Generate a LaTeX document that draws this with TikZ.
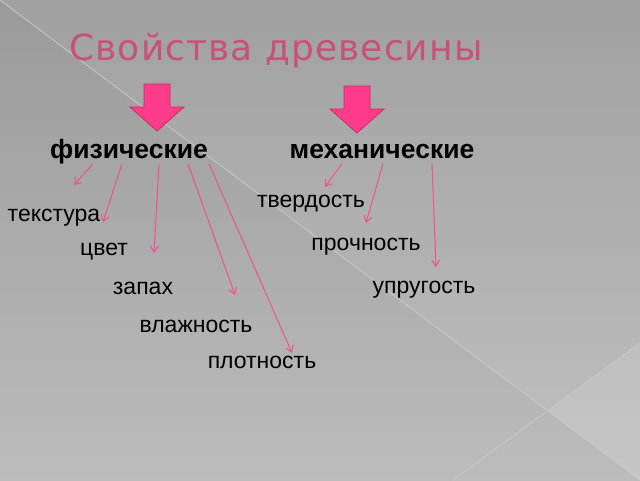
\documentclass[tikz,border=0pt]{standalone}
\usepackage{fontspec}
\setmainfont{Liberation Sans}
\newfontfamily\titlefont[LetterSpace=3]{DejaVu Sans}
\usetikzlibrary{arrows.meta}
\definecolor{bgtop}{RGB}{154,154,154}
\definecolor{bgbot}{RGB}{188,188,188}
\definecolor{bgline}{RGB}{200,200,200}
\definecolor{titlepink}{RGB}{200,80,125}
\definecolor{linkpink}{RGB}{240,80,140}
\definecolor{blockpink}{RGB}{255,60,140}
\definecolor{blockedge}{RGB}{205,40,100}

\begin{document}
\begin{tikzpicture}[x=1pt,y=-1pt,
    term/.style={anchor=base,inner sep=0pt,font=\fontsize{23}{27}\selectfont},
    head/.style={anchor=base,inner sep=0pt,font=\fontsize{26.5}{31}\selectfont\bfseries},
    link/.style={linkpink,line width=1pt,-{Straight Barb[length=6pt,width=8pt]}},
    blockarrow/.style={fill=blockpink,draw=blockedge,line width=0.8pt}]
\useasboundingbox (0,0) rectangle (640,480);
% background
\shade[top color=bgtop,bottom color=bgbot] (0,0) rectangle (640,480);
\fill[white,opacity=0.07] (0,0) -- (640,0) -- (640,480) -- cycle;
\fill[white,opacity=0.1] (548,411) -- (640,343) -- (640,480) -- cycle;
\draw[bgline,line width=0.8pt] (0,0) -- (640,480);
\draw[bgline,line width=0.8pt] (453,480) -- (640,343);

\node[anchor=base,inner sep=0pt,text=titlepink,font=\fontsize{36}{42}\titlefont] (title) at (276,60) {Свойства древесины};

\foreach \cx/\cy in {157/84,357/86}
    \draw[blockarrow] (\cx-13,\cy) -- (\cx+13,\cy) -- (\cx+13,\cy+23) -- (\cx+27,\cy+23)
        -- (\cx,\cy+47) -- (\cx-27,\cy+23) -- (\cx-13,\cy+23) -- cycle;

\node[head] (phys) at (129,158) {физические};
\node[head] (mech) at (382,158) {механические};

\node[term] (tex) at (54,221) {текстура};
\node[term] (col) at (104,255) {цвет};
\node[term] (sme) at (143,294) {запах};
\node[term] (hum) at (196,332) {влажность};
\node[term] (den) at (262,368) {плотность};
\node[term] (har) at (311,207) {твердость};
\node[term] (str) at (366,250) {прочность};
\node[term] (ela) at (424,293) {упругость};

\coordinate (tip1) at (74,185);
\coordinate (tip2) at (103,222);
\coordinate (tip3) at (154,253);
\coordinate (tip4) at (235,295);
\coordinate (tip5) at (292,353);
\coordinate (tip6) at (325,187);
\coordinate (tip7) at (366,223);
\coordinate (tip8) at (436,267);

\foreach \dx/\t in {-36/tip1,-7/tip2,30/tip3,59/tip4,80/tip5}
    \draw[link] ([xshift=\dx pt]phys.south) -- (\t);
\foreach \dx/\t in {-40/tip6,1/tip7,50/tip8}
    \draw[link] ([xshift=\dx pt,yshift=-5pt]mech.south) -- (\t);
\end{tikzpicture}
\end{document}
